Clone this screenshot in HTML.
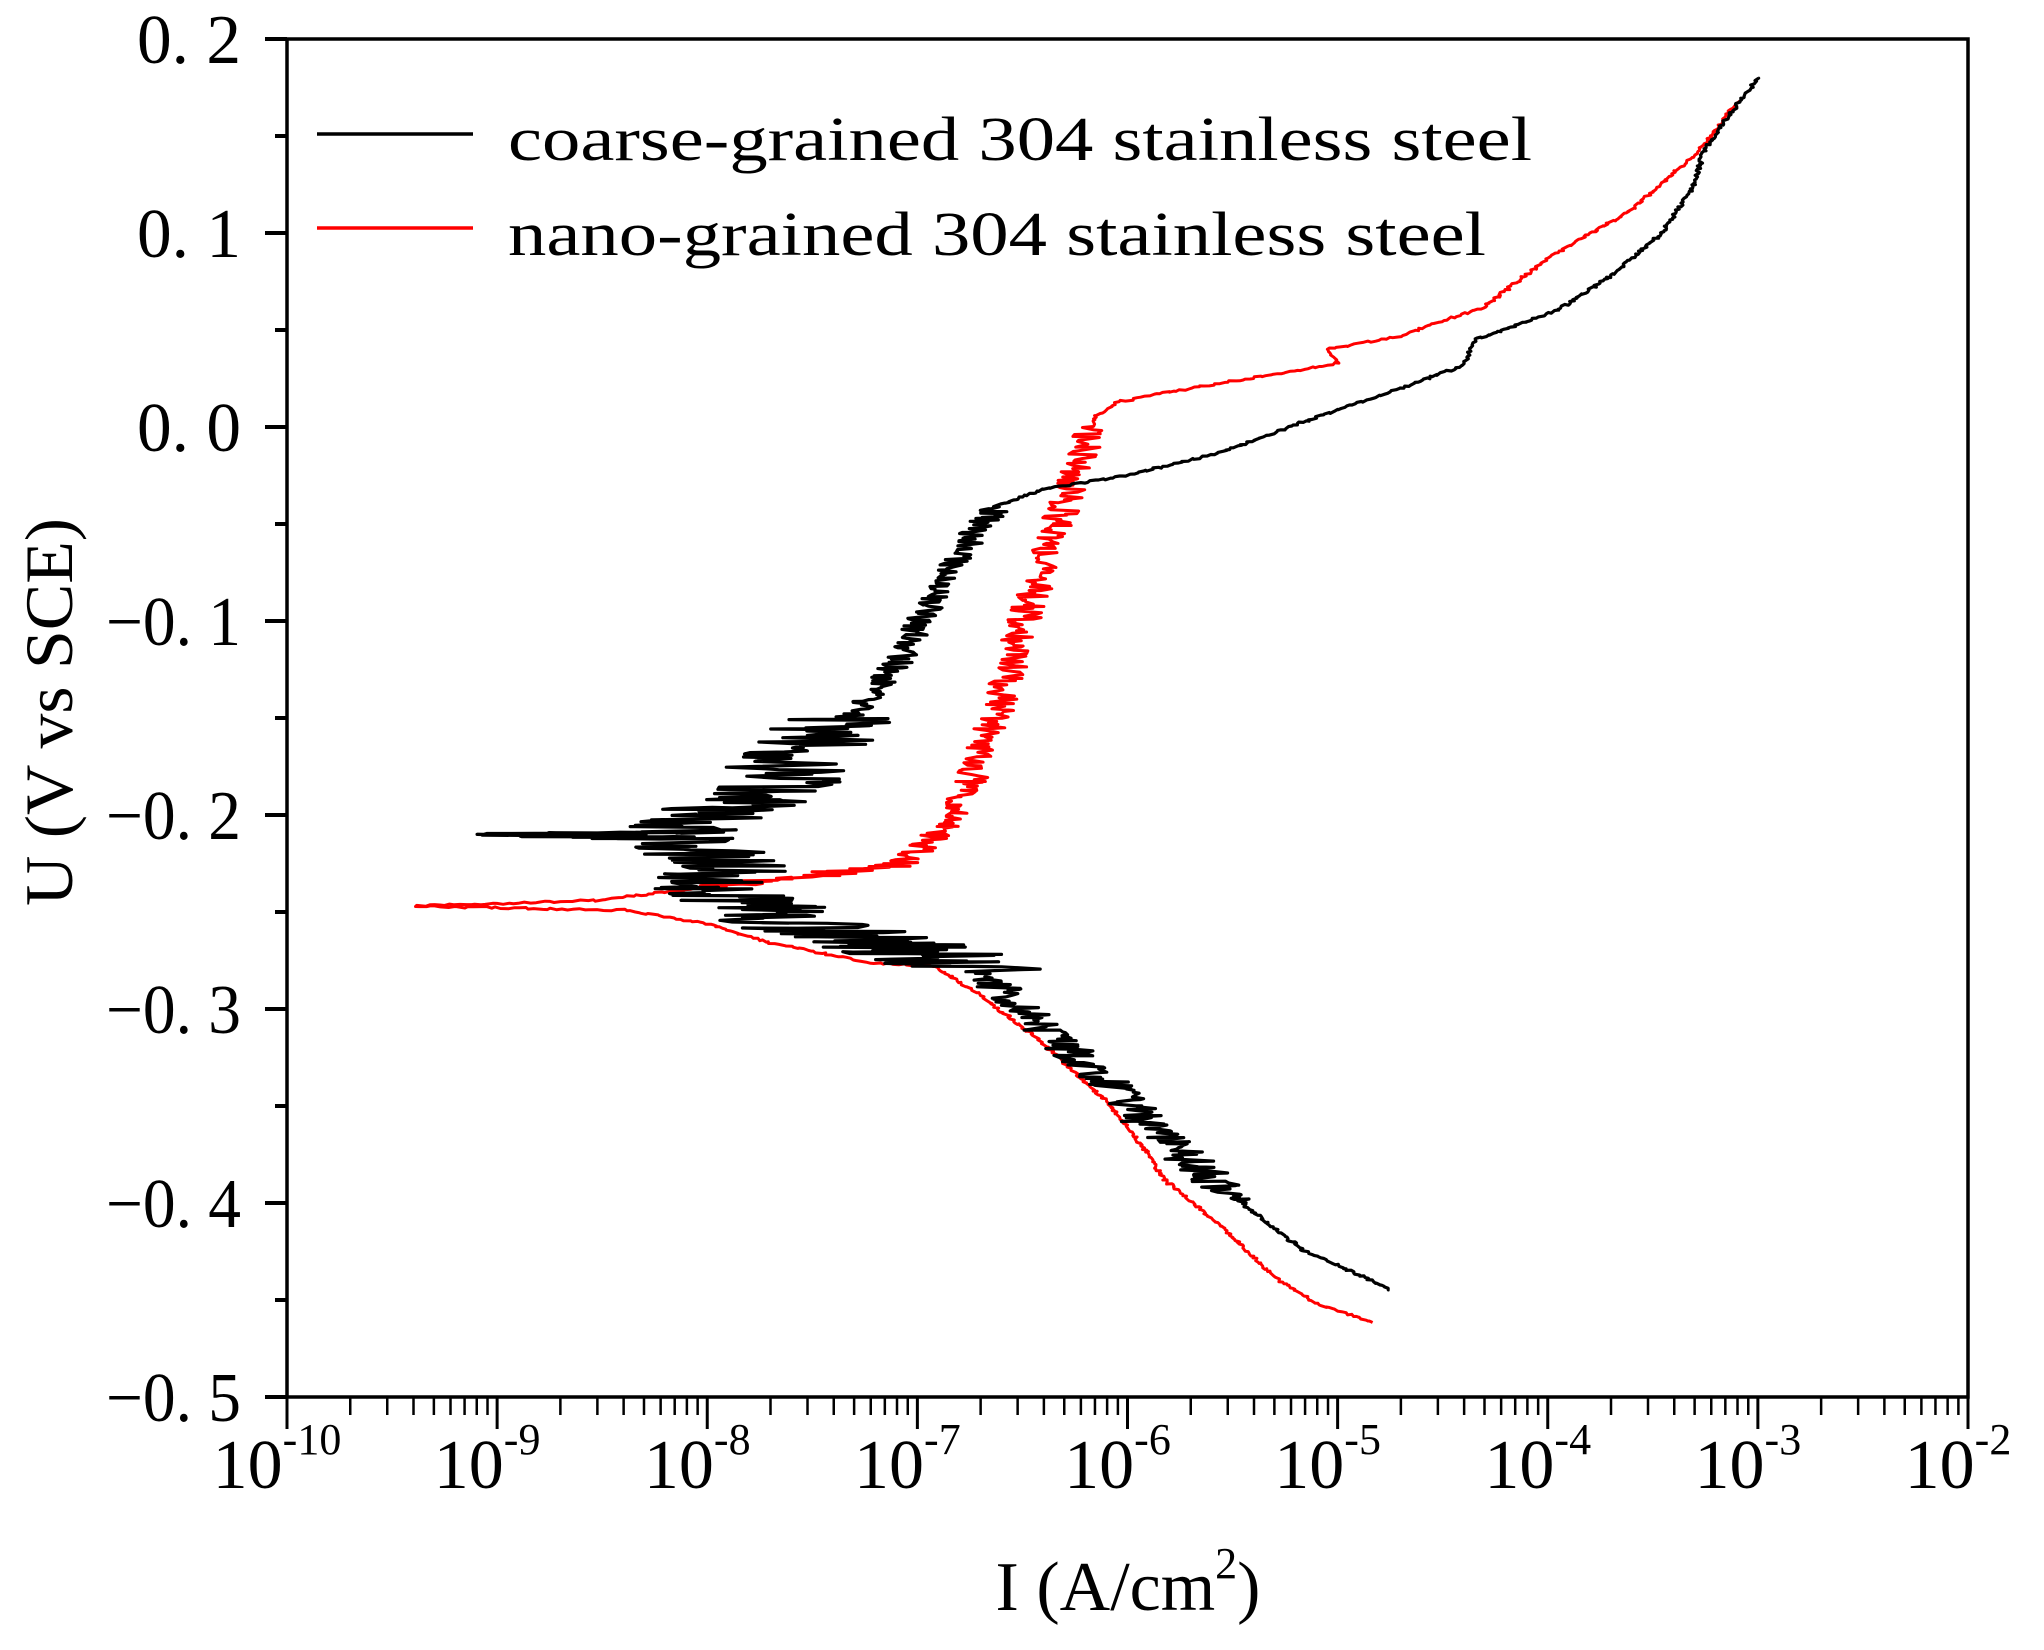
<!DOCTYPE html>
<html><head><meta charset="utf-8"><style>
html,body{margin:0;padding:0;background:#fff;}
svg{display:block;}
text{font-family:"Liberation Serif","Noto Serif CJK SC",serif;fill:#000;}
</style></head><body>
<svg id="s" width="2044" height="1650" xmlns="http://www.w3.org/2000/svg">
<g id="ax"></g>
<path id="red" fill="none" stroke="#f00" stroke-width="3" stroke-linejoin="round"/>
<path id="blk" fill="none" stroke="#000" stroke-width="3.2" stroke-linejoin="round"/>
<rect x="287" y="39" width="1681" height="1358" fill="none" stroke="#000" stroke-width="3.5"/>
<line x1="317" y1="134" x2="473" y2="134" stroke="#000" stroke-width="3.5"/>
<line x1="317" y1="228" x2="473" y2="228" stroke="#f00" stroke-width="3.5"/>
<text x="508" y="160" font-size="62" textLength="1024" lengthAdjust="spacingAndGlyphs">coarse-grained 304 stainless steel</text>
<text x="508" y="255" font-size="62" textLength="978" lengthAdjust="spacingAndGlyphs">nano-grained 304 stainless steel</text>
<text transform="translate(72,712) rotate(-90)" font-size="68" text-anchor="middle" textLength="388" lengthAdjust="spacingAndGlyphs">U (V vs SCE)</text>
<text x="1128" y="1610" font-size="70" text-anchor="middle">I (A/cm<tspan font-size="44" dy="-32">2</tspan><tspan dy="32">)</tspan></text>
</svg>
<script>
var L=287,R=1968,T=39,B=1397;
function X(lg){return L+(lg+10)*(R-L)/8;}
function Y(u){return T+(0.2-u)*(B-T)/0.7;}
var ax=document.getElementById('ax'),h='';
var yl=['0. 2','0. 1','0. 0','\u22120. 1','\u22120. 2','\u22120. 3','\u22120. 4','\u22120. 5'];
for(var i=0;i<=14;i++){var u=0.2-i*0.05,y=Y(u);var len=(i%2==0)?22:12;
h+='<line x1="'+(L-len)+'" y1="'+y+'" x2="'+L+'" y2="'+y+'" stroke="#000" stroke-width="4"/>';
if(i%2==0){var w=(i/2>=3)?135:104;h+='<text x="241" y="'+(y+24)+'" font-size="70" text-anchor="end" textLength="'+w+'" lengthAdjust="spacingAndGlyphs">'+yl[i/2]+'</text>';}}
for(var d=-10;d<=-2;d++){var x=X(d);
h+='<line x1="'+x+'" y1="'+B+'" x2="'+x+'" y2="'+(B+32)+'" stroke="#000" stroke-width="3"/>';
h+='<text x="'+(x-10)+'" y="1488" font-size="70" text-anchor="middle">10<tspan font-size="44" dy="-34">'+d+'</tspan></text>';
if(d<-2)for(var k=2;k<=9;k++){var xm=X(d+Math.log10(k));
h+='<line x1="'+xm+'" y1="'+B+'" x2="'+xm+'" y2="'+(B+18)+'" stroke="#000" stroke-width="2.5"/>';}}
ax.innerHTML=h;
var seed=7;function rnd(){seed=(seed*16807)%2147483647;return seed/2147483647;}
function build(pts,noiseFn){var out=[];
for(var i=0;i<pts.length-1;i++){var a=pts[i],b=pts[i+1];var la=Math.log10(a[0]),lb=Math.log10(b[0]);
var n=Math.max(2,Math.ceil(Math.abs(Y(b[1])-Y(a[1]))/1.5+Math.abs(X(lb)-X(la))/6));
for(var j=0;j<n;j++){var t=j/n;var lg=la+(lb-la)*t,u=a[1]+(b[1]-a[1])*t;var nz=noiseFn(u,lg);
out.push([X(lg+nz*(rnd()-0.5)),Y(u+0.001*(rnd()-0.5))]);}}
var l=pts[pts.length-1];out.push([X(Math.log10(l[0])),Y(l[1])]);
return 'M'+out.map(function(p){return p[0].toFixed(1)+','+p[1].toFixed(1);}).join('L');}
var blk=[[1.8e-5,-0.445],[1e-5,-0.432],[7e-6,-0.425],[5e-6,-0.413],[3e-6,-0.395],[2e-6,-0.378],[1.3e-6,-0.362],[1e-6,-0.347],[7e-7,-0.332],[4e-7,-0.31],[2.5e-7,-0.29],[1.5e-7,-0.276],[8e-8,-0.268],[3e-8,-0.258],[1.5e-8,-0.245],[1e-8,-0.237],[1.3e-8,-0.228],[1e-8,-0.22],[8e-9,-0.212],[1e-9,-0.21],[8e-9,-0.209],[1e-8,-0.2],[2e-8,-0.19],[2.5e-8,-0.17],[3.5e-8,-0.157],[5e-8,-0.148],[7e-8,-0.13],[9e-8,-0.115],[1e-7,-0.1],[1.3e-7,-0.085],[1.5e-7,-0.07],[2e-7,-0.05],[2.5e-7,-0.04],[4e-7,-0.032],[1e-6,-0.025],[3e-6,-0.012],[7e-6,0.003],[2e-5,0.02],[4e-5,0.032],[4.5e-5,0.045],[1.1e-4,0.06],[2e-4,0.078],[3.5e-4,0.1],[5e-4,0.125],[5.5e-4,0.142],[7e-4,0.158],[1e-3,0.18]];
var red=[[1.5e-5,-0.462],[8e-6,-0.452],[5e-6,-0.438],[3e-6,-0.415],[1.5e-6,-0.388],[1.2e-6,-0.372],[8e-7,-0.348],[4e-7,-0.318],[2e-7,-0.293],[1.2e-7,-0.278],[6e-8,-0.276],[2e-8,-0.266],[1e-8,-0.256],[4e-9,-0.249],[4e-10,-0.247],[3e-9,-0.244],[1e-8,-0.237],[4e-8,-0.23],[8e-8,-0.226],[1.1e-7,-0.215],[1.5e-7,-0.2],[2e-7,-0.17],[2.5e-7,-0.14],[3e-7,-0.11],[4e-7,-0.07],[5e-7,-0.04],[6e-7,-0.02],[7e-7,0.005],[9e-7,0.013],[2e-6,0.02],[5e-6,0.027],[1e-5,0.033],[9e-6,0.04],[2e-5,0.047],[5e-5,0.062],[1e-4,0.087],[2.5e-4,0.112],[5e-4,0.14],[6e-4,0.15],[8e-4,0.168]];
document.getElementById('blk').setAttribute('d',build(blk,function(u,lg){
 if(u>-0.28&&u<-0.245&&lg>-7.9)return 0.75; if(u>-0.245&&u<-0.19)return 0.6; if(u>-0.19&&u<-0.15)return 0.6; if(u>-0.4&&u<-0.28)return 0.22; if(u>-0.15&&u<-0.04)return 0.14; return 0.02;}));
document.getElementById('red').setAttribute('d',build(red,function(u,lg){
 if(lg>-7.5&&lg<-5.9&&u>-0.225&&u<0)return 0.16; if(u>-0.24&&u<-0.22&&lg>-8)return 0.25; return 0.02;}));
</script>
</body></html>
